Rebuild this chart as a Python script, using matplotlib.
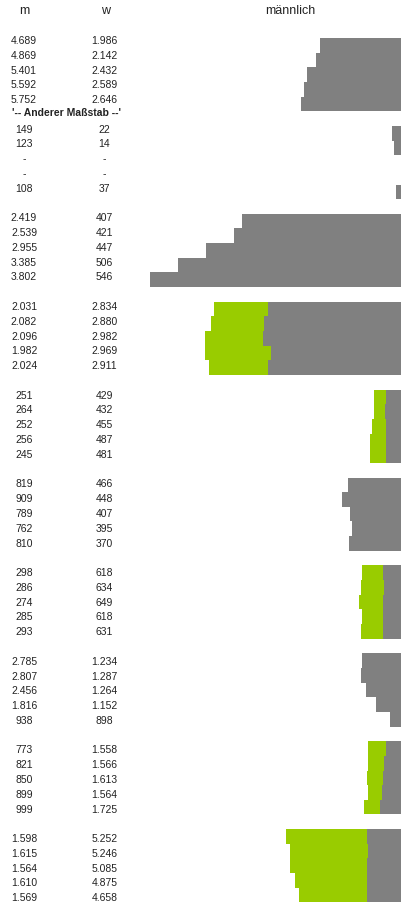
import numpy as np
import matplotlib.pyplot as plt

plt.rcParams['font.family'] = ['Liberation Sans', 'DejaVu Sans']

# Tabellenwerte (None = "-")
m_werte = [
    [4689, 4869, 5401, 5592, 5752],
    [149, 123, None, None, 108],
    [2419, 2539, 2955, 3385, 3802],
    [2031, 2082, 2096, 1982, 2024],
    [251, 264, 252, 256, 245],
    [819, 909, 789, 762, 810],
    [298, 286, 274, 285, 293],
    [2785, 2807, 2456, 1816, 938],
    [773, 821, 850, 899, 999],
    [1598, 1615, 1564, 1610, 1569],
]
w_werte = [
    [1986, 2142, 2432, 2589, 2646],
    [22, 14, None, None, 37],
    [407, 421, 447, 506, 546],
    [2834, 2880, 2982, 2969, 2911],
    [429, 432, 455, 487, 481],
    [466, 448, 407, 395, 370],
    [618, 634, 649, 618, 631],
    [1234, 1287, 1264, 1152, 898],
    [1558, 1566, 1613, 1564, 1725],
    [5252, 5246, 5085, 4875, 4658],
]

# Balkenlaengen (aus dem Bild geschaetzt, je Gruppe eigener Massstab)
grau = [
    [81, 85.3, 94.3, 97.3, 100],
    [9, 6.7, 0, 0, 5.3],
    [158.7, 166.7, 195, 222.7, 251],
    [132.7, 137, 138, 130, 132.7],
    [15, 16, 15, 15, 15],
    [52.7, 58.7, 51, 48.7, 52],
    [17.7, 17, 17.7, 17.7, 17.7],
    [38.7, 40, 35, 25, 11],
    [15, 17, 17.7, 18.7, 21],
    [33.7, 33.3, 33.7, 33.7, 33.7],
]
gruen = [
    [0, 0, 0, 0, 0],
    [0, 0, 0, 0, 0],
    [0, 0, 0, 0, 0],
    [54.3, 52.7, 58, 66, 59.3],
    [12, 11, 14, 16, 16],
    [0, 0, 0, 0, 0],
    [21, 23, 24.3, 21, 22.3],
    [0, 0, 0, 0, 0],
    [17.7, 15.7, 16.3, 14, 15.7],
    [81.3, 77.7, 77.3, 72.3, 68.3],
]

GRAU = '#808080'
GRUEN = '#99cc00'
TXT = '#222222'


def fmt(v):
    if v is None:
        return '-'
    return f'{v:,}'.replace(',', '.')


W, H = 401, 904
fig = plt.figure(figsize=(W / 100, H / 100), dpi=100)

# Achse fuer Text in Pixelkoordinaten
ax = fig.add_axes([0, 0, 1, 1])
ax.set_xlim(0, W)
ax.set_ylim(H, 0)
ax.axis('off')

# Achse fuer Balken, Nullpunkt am rechten Rand
axb = fig.add_axes([0, 0, 1, 1])
axb.set_xlim(W, 0)
axb.set_ylim(H, 0)
axb.axis('off')

zeile_h = 14.65
start_y = 39
text_h = 14.78
text_y0 = 41

ax.text(24, 11, 'm', ha='center', va='center', fontsize=9, color=TXT)
ax.text(106, 11, 'w', ha='center', va='center', fontsize=9, color=TXT)
ax.text(290, 11, 'männlich', ha='center', va='center', fontsize=9, color=TXT)

for g in range(len(m_werte)):
    for i in range(5):
        k = g * 6 + i
        y = start_y + (k + 0.5) * zeile_h
        axb.barh(y, grau[g][i], height=zeile_h, left=0, color=GRAU, linewidth=0)
        if gruen[g][i] > 0:
            axb.barh(y, gruen[g][i], height=zeile_h, left=grau[g][i],
                     color=GRUEN, linewidth=0)
        ty = text_y0 + k * text_h
        ax.text(24, ty, fmt(m_werte[g][i]), ha='center', va='center',
                fontsize=7.5, color=TXT)
        ax.text(104.5, ty, fmt(w_werte[g][i]), ha='center', va='center',
                fontsize=7.5, color=TXT)

ax.text(11.5, text_y0 + 5 * text_h - 1.5, "'-- Anderer Maßstab --'", ha='left',
        va='center', fontsize=7.5, fontweight='bold', color=TXT)

fig.savefig('out.png', dpi=100)
